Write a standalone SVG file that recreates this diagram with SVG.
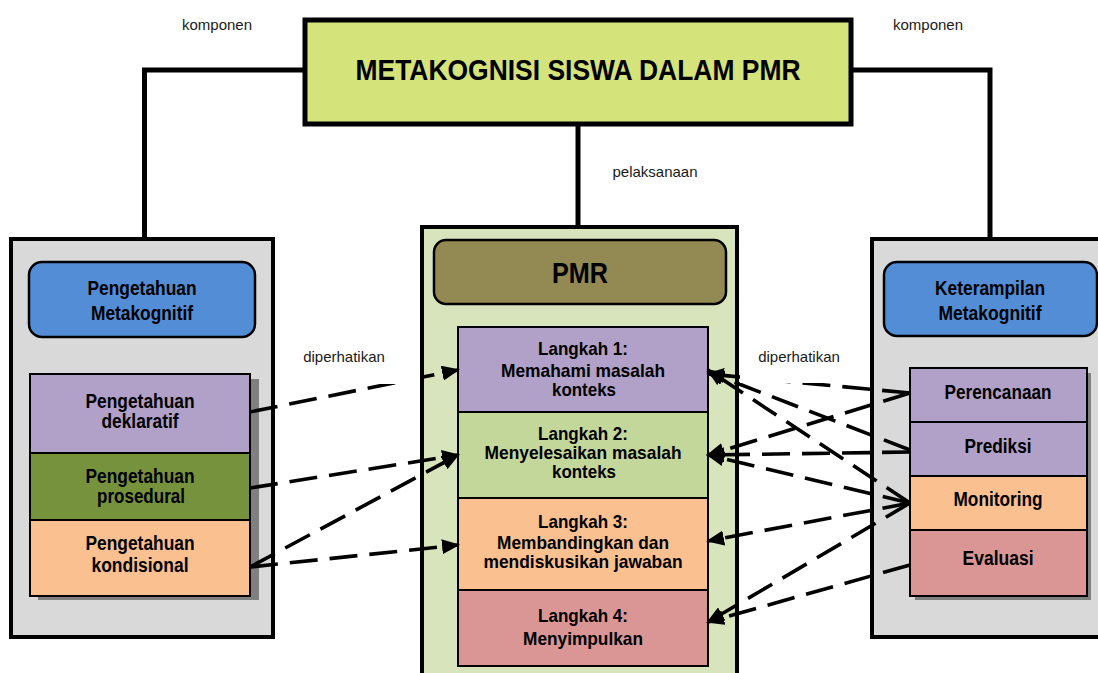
<svg xmlns="http://www.w3.org/2000/svg" width="1098" height="673" viewBox="0 0 1098 673">
<style>
.t{font-family:"Liberation Sans",Arial,sans-serif;font-weight:bold;fill:#000;text-anchor:middle}
.lbl{font-family:"Liberation Sans",Arial,sans-serif;font-size:15px;fill:#1a1a1a;text-anchor:middle}
.frame{fill:#d9d9d9;stroke:#000;stroke-width:4}
.head{fill:#538dd5;stroke:#000;stroke-width:2.5}
.cell{stroke:#000;stroke-width:2}
.link{fill:none;stroke:#000;stroke-width:5}
.dash{fill:none;stroke:#000;stroke-width:3.6;stroke-dasharray:28 12;marker-end:url(#ah)}
</style>
<defs>
<marker id="ah" markerUnits="userSpaceOnUse" markerWidth="18" markerHeight="15" refX="16" refY="7.5" orient="auto">
<path d="M0,0 L18,7.5 L0,15 Z" fill="#000" stroke="none"/>
</marker>
</defs>
<rect width="1098" height="673" fill="#fff"/>

<g id="links">
<path class="link" d="M305,70 H144.5 V239"/>
<path class="link" d="M851,70 H990 V239"/>
<path class="link" d="M578,124 V227"/>
</g>

<g id="root">
<rect x="305" y="20" width="546" height="104" fill="#d5e37b" stroke="#000" stroke-width="5"/>
<text class="t" x="578" y="80" font-size="30" textLength="445" lengthAdjust="spacingAndGlyphs">METAKOGNISI SISWA DALAM PMR</text>
</g>

<g id="pengetahuan">
<rect class="frame" x="11" y="239" width="262" height="398"/>
<rect class="head" x="29" y="262" width="226" height="75" rx="13"/>
<text class="t" x="142" y="295" font-size="20" textLength="109" lengthAdjust="spacingAndGlyphs">Pengetahuan</text>
<text class="t" x="142" y="320" font-size="20" textLength="102" lengthAdjust="spacingAndGlyphs">Metakognitif</text>
<rect x="38" y="379" width="221" height="221" fill="#808080"/>
</g>
<g id="deklaratif">
<rect class="cell" x="30" y="374" width="220" height="79" fill="#b1a0c7"/>
<text class="t" x="140" y="408" font-size="20" textLength="109" lengthAdjust="spacingAndGlyphs">Pengetahuan</text>
<text class="t" x="140" y="428" font-size="20" textLength="77" lengthAdjust="spacingAndGlyphs">deklaratif</text>
</g>
<g id="prosedural">
<rect class="cell" x="30" y="453" width="220" height="67" fill="#76923c"/>
<text class="t" x="140" y="483" font-size="20" textLength="109" lengthAdjust="spacingAndGlyphs">Pengetahuan</text>
<text class="t" x="141" y="503" font-size="20" textLength="88" lengthAdjust="spacingAndGlyphs">prosedural</text>
</g>
<g id="kondisional">
<rect class="cell" x="30" y="520" width="220" height="76" fill="#fac090"/>
<text class="t" x="140" y="550" font-size="20" textLength="109" lengthAdjust="spacingAndGlyphs">Pengetahuan</text>
<text class="t" x="140" y="572" font-size="20" textLength="97" lengthAdjust="spacingAndGlyphs">kondisional</text>
</g>

<g id="pmr">
<rect x="422" y="227" width="315" height="470" fill="#d7e4bc" stroke="#000" stroke-width="4"/>
<rect x="434" y="240" width="292" height="64" rx="12" fill="#938953" stroke="#000" stroke-width="2.5"/>
<text class="t" x="580" y="283" font-size="30" textLength="56" lengthAdjust="spacingAndGlyphs">PMR</text>
</g>
<g id="langkah1">
<rect class="cell" x="458" y="327" width="250" height="85" fill="#b1a0c7"/>
<text class="t" x="583" y="355" font-size="19" textLength="90" lengthAdjust="spacingAndGlyphs">Langkah 1:</text>
<text class="t" x="583" y="377" font-size="19" textLength="164" lengthAdjust="spacingAndGlyphs">Memahami masalah</text>
<text class="t" x="584" y="396" font-size="19" textLength="64" lengthAdjust="spacingAndGlyphs">konteks</text>
</g>
<g id="langkah2">
<rect class="cell" x="458" y="412" width="250" height="86" fill="#c4d79b"/>
<text class="t" x="583" y="440" font-size="19" textLength="90" lengthAdjust="spacingAndGlyphs">Langkah 2:</text>
<text class="t" x="583" y="459" font-size="19" textLength="197" lengthAdjust="spacingAndGlyphs">Menyelesaikan masalah</text>
<text class="t" x="584" y="478" font-size="19" textLength="64" lengthAdjust="spacingAndGlyphs">konteks</text>
</g>
<g id="langkah3">
<rect class="cell" x="458" y="498" width="250" height="92" fill="#fac090"/>
<text class="t" x="583" y="528" font-size="19" textLength="90" lengthAdjust="spacingAndGlyphs">Langkah 3:</text>
<text class="t" x="583" y="549" font-size="19" textLength="172" lengthAdjust="spacingAndGlyphs">Membandingkan dan</text>
<text class="t" x="583" y="568" font-size="19" textLength="199" lengthAdjust="spacingAndGlyphs">mendiskusikan jawaban</text>
</g>
<g id="langkah4">
<rect class="cell" x="458" y="590" width="250" height="76" fill="#da9694"/>
<text class="t" x="583" y="622" font-size="19" textLength="90" lengthAdjust="spacingAndGlyphs">Langkah 4:</text>
<text class="t" x="583" y="645" font-size="19" textLength="120" lengthAdjust="spacingAndGlyphs">Menyimpulkan</text>
</g>

<g id="keterampilan">
<rect class="frame" x="872" y="239" width="240" height="398"/>
<rect class="head" x="884" y="262" width="213" height="74" rx="13"/>
<text class="t" x="990" y="295" font-size="20" textLength="110" lengthAdjust="spacingAndGlyphs">Keterampilan</text>
<text class="t" x="990" y="320" font-size="20" textLength="103" lengthAdjust="spacingAndGlyphs">Metakognitif</text>
<rect x="915" y="373" width="176" height="227" fill="#808080"/>
</g>
<g id="perencanaan">
<rect class="cell" x="910" y="368" width="177" height="54" fill="#b1a0c7"/>
<text class="t" x="998" y="399" font-size="20" textLength="107" lengthAdjust="spacingAndGlyphs">Perencanaan</text>
</g>
<g id="prediksi">
<rect class="cell" x="910" y="422" width="177" height="54" fill="#b1a0c7"/>
<text class="t" x="998" y="453" font-size="20" textLength="67" lengthAdjust="spacingAndGlyphs">Prediksi</text>
</g>
<g id="monitoring">
<rect class="cell" x="910" y="476" width="177" height="54" fill="#fac090"/>
<text class="t" x="998" y="506" font-size="20" textLength="89" lengthAdjust="spacingAndGlyphs">Monitoring</text>
</g>
<g id="evaluasi">
<rect class="cell" x="910" y="530" width="177" height="66" fill="#da9694"/>
<text class="t" x="998" y="565" font-size="20" textLength="71" lengthAdjust="spacingAndGlyphs">Evaluasi</text>
</g>

<g id="connectors">
<path class="dash" d="M250,412 L458,370"/>
<path class="dash" d="M250,488 L458,455"/>
<path class="dash" d="M250,567 L458,455"/>
<path class="dash" d="M250,567 L458,545"/>
<path class="dash" d="M910,393 L708,374"/>
<path class="dash" d="M910,450 L708,372"/>
<path class="dash" d="M910,503 L708,370"/>
<path class="dash" d="M910,393 L708,455"/>
<path class="dash" d="M910,452 L708,455"/>
<path class="dash" d="M910,503 L708,455"/>
<path class="dash" d="M910,503 L708,541"/>
<path class="dash" d="M910,503 L708,622"/>
<path class="dash" d="M910,565 L708,622"/>
</g>

<g id="labels">
<text class="lbl" x="217" y="30">komponen</text>
<text class="lbl" x="928" y="30">komponen</text>
<text class="lbl" x="655" y="177">pelaksanaan</text>
<rect x="276" y="336" width="144" height="48" fill="#fff"/>
<text class="lbl" x="344" y="362">diperhatikan</text>
<rect x="740" y="336" width="130" height="47" fill="#fff"/>
<text class="lbl" x="799" y="362">diperhatikan</text>
</g>
</svg>
